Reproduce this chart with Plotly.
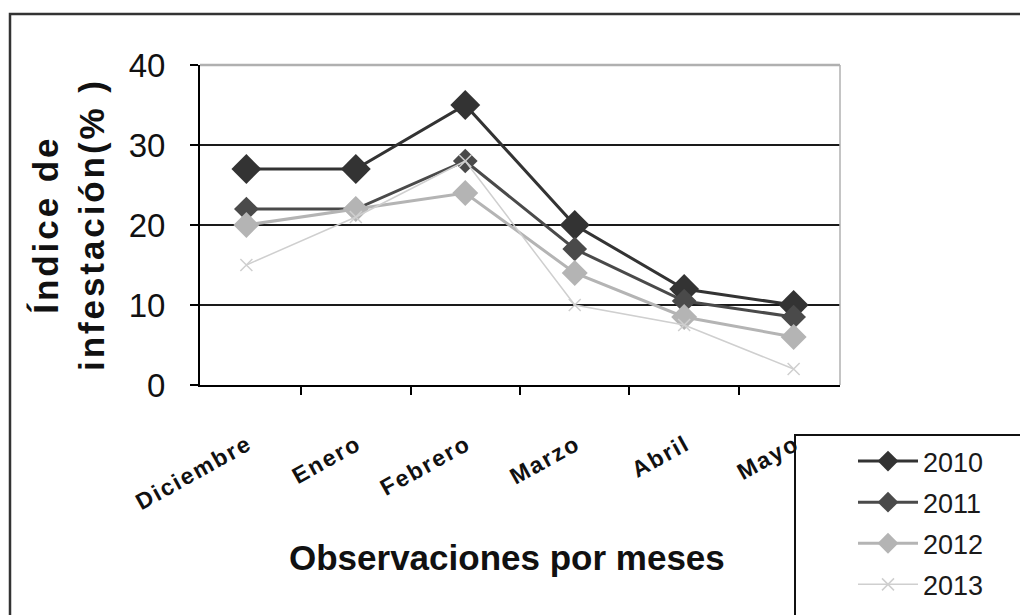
import plotly.graph_objects as go

meses = ["Diciembre", "Enero", "Febrero", "Marzo", "Abril", "Mayo"]
v2010 = [27, 27, 35, 20, 12, 10]
v2011 = [22, 22, 28, 17, 10.5, 8.5]
v2012 = [20, 22, 24, 14, 8.5, 6]
v2013 = [15, 21, 28, 10, 7.5, 2]
y_ticks = [0, 10, 20, 30, 40]

FONT = "Liberation Sans, Arial, sans-serif"
HAIR = "\u200a"


def spaced(s, sep):
    return sep.join(list(s))


# page body adds an 8px offset; plot area wanted at screen x 200-840, y 65-385
OFF = 8
PL, PR, PT, PB = 200, 840, 65, 385


def px(x):
    return (x - PL) / (PR - PL)


def py(y):
    return (PB - y) / (PB - PT)


fig = go.Figure()
series = [
    ("2010", v2010, "#333333", 3, dict(symbol="diamond", size=23)),
    ("2011", v2011, "#4a4a4a", 3, dict(symbol="diamond", size=19)),
    ("2012", v2012, "#b4b4b4", 3, dict(symbol="diamond", size=20)),
    ("2013", v2013, "#cfcfcf", 1.5, dict(symbol="x-thin-open", size=12, line=dict(width=1.5, color="#c8c8c8"))),
]
for name, vals, col, lw, mk in series:
    mk = dict(mk)
    mk["color"] = col
    fig.add_trace(go.Scatter(
        x=meses, y=vals, name=name, mode="lines+markers",
        line=dict(color=col, width=lw), marker=mk,
        legendgroup=name, hoverinfo="skip",
    ))

W, H = 1028, 615
fig.update_layout(
    width=W, height=H,
    margin=dict(l=PL - OFF, r=W - (PR - OFF), t=PT - OFF, b=H - (PB - OFF), autoexpand=False),
    paper_bgcolor="white", plot_bgcolor="white",
    font=dict(family=FONT, color="#111111"),
    showlegend=True,
    legend=dict(
        x=px(853), y=py(437), xanchor="left", yanchor="top",
        font=dict(size=27, color="#1a1a1a"),
        bgcolor="rgba(0,0,0,0)", borderwidth=0,
        traceorder="grouped", tracegroupgap=3, itemwidth=60,
    ),
    xaxis=dict(
        type="category", tickson="boundaries",
        tickvals=meses, ticktext=[spaced(m, HAIR) for m in meses],
        showline=True, linecolor="black", linewidth=2,
        ticks="outside", ticklen=8, tickcolor="black", tickwidth=1.5,
        tickangle=-29, ticklabelstandoff=36,
        tickfont=dict(size=23, weight="bold", color="#111111"),
        showgrid=False, zeroline=False, automargin=False,
    ),
    yaxis=dict(
        range=[0, 40], tickvals=y_ticks,
        showline=True, linecolor="black", linewidth=2,
        ticks="outside", ticklen=8, tickcolor="black", tickwidth=1.5,
        tickfont=dict(size=33, color="#111111"), ticklabelstandoff=18,
        showgrid=True, gridcolor="#1a1a1a", gridwidth=2, zeroline=False,
        automargin=False,
    ),
    shapes=[
        dict(type="rect", xref="paper", yref="paper", x0=px(10), x1=px(1040), y0=py(630), y1=py(14),
             line=dict(color="#333333", width=2.5), layer="below"),
        dict(type="line", xref="paper", yref="paper", x0=0, x1=1, y0=1, y1=1,
             line=dict(color="#b0b0b0", width=2.5), layer="above"),
        dict(type="line", xref="paper", yref="paper", x0=1, x1=1, y0=0, y1=1,
             line=dict(color="#b0b0b0", width=1.5), layer="above"),
        dict(type="rect", xref="paper", yref="paper", x0=px(795), x1=px(1040), y0=py(630), y1=py(435),
             line=dict(color="#111111", width=2), layer="above"),
    ],
    annotations=[
        dict(text=spaced("Índice de", HAIR) + "<br>" + spaced("infestación(% )", HAIR),
             xref="paper", yref="paper",
             x=px(68), y=py(226), xanchor="center", yanchor="middle",
             textangle=-90, showarrow=False,
             font=dict(size=35, weight="bold", color="#111111")),
        dict(text="Observaciones por meses", xref="paper", yref="paper",
             x=px(507), y=py(557), xanchor="center", yanchor="middle",
             showarrow=False, font=dict(size=35, weight="bold", color="#111111")),
    ],
)

fig.write_html("out.html")
